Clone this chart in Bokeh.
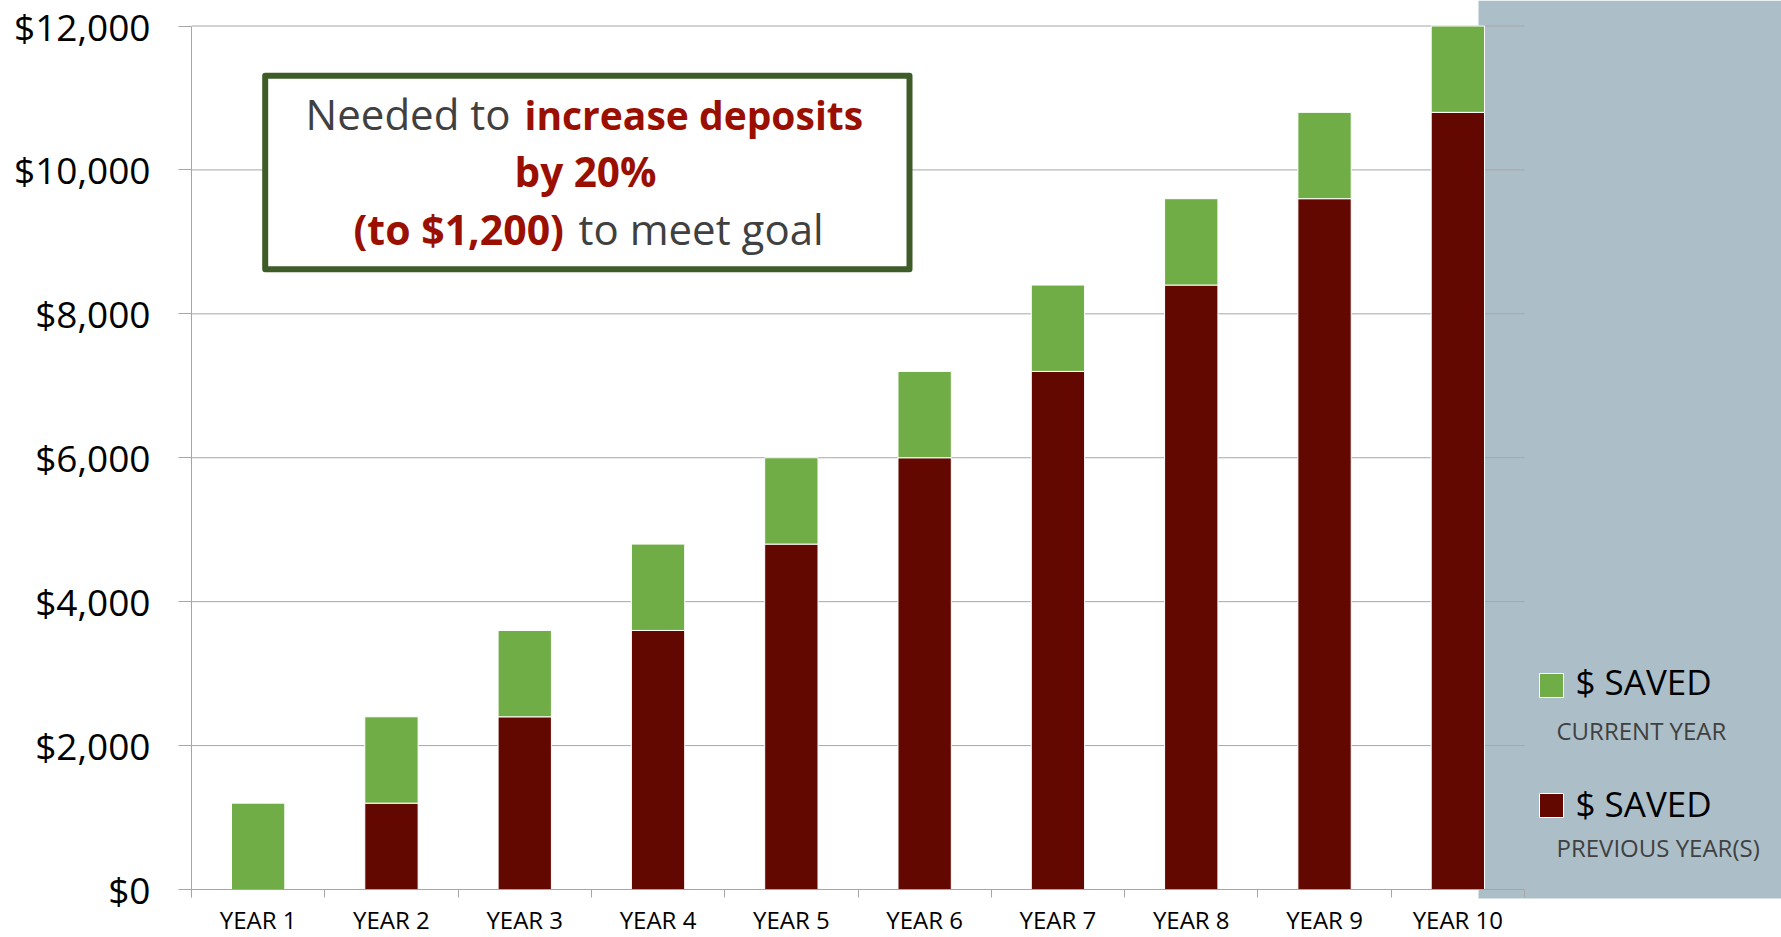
from bokeh.plotting import figure
from bokeh.models import Range1d, FixedTicker, NumeralTickFormatter, ColumnDataSource
from bokeh.embed import file_html
from bokeh.resources import INLINE
from bokeh.core.properties import value

# ---------------- data ----------------
years = ["YEAR 1", "YEAR 2", "YEAR 3", "YEAR 4", "YEAR 5",
         "YEAR 6", "YEAR 7", "YEAR 8", "YEAR 9", "YEAR 10"]
saved_previous = [0, 1200, 2400, 3600, 4800, 6000, 7200, 8400, 9600, 10800]
saved_current = [1200, 1200, 1200, 1200, 1200, 1200, 1200, 1200, 1200, 1200]
y_ticks = [0, 2000, 4000, 6000, 8000, 10000, 12000]
legend_titles = ["$ SAVED", "$ SAVED"]
legend_subtitles = ["CURRENT YEAR", "PREVIOUS YEAR(S)"]

# ---------------- style ----------------
GREEN = "#70AD47"
DARKRED = "#620800"
PANEL = "#ACBFC9"
GRID = "#A6A6A6"
BOX = "#3D5C28"
GRAY_TXT = "#404040"
RED_TXT = "#9A0F00"
FONT = "Open Sans"

# ---------------- layout (page pixels) ----------------
FIG_W, FIG_H = 1781, 937
OFF = 0
AX_LEFT = 191.0        # page x of the value axis
CAT_W = 133.3          # width of one category
Y0_PAGE = 889.0        # page y of $0
YTOP_PAGE = 25.5       # page y of top tick
TICK_BOTTOM = 897.0    # bottom end of the category boundary ticks
FRAME_TOP = OFF
FRAME_BOTTOM = OFF + FIG_H
FRAME_RIGHT = OFF + FIG_W
BASE_K = 0.40          # baseline correction (fraction of font size)

ppu = (Y0_PAGE - YTOP_PAGE) / y_ticks[-1]


def X(px):
    return (px - AX_LEFT) / CAT_W


def Y(py):
    return (Y0_PAGE - py) / ppu


def B(py, size):
    """data y for a text whose alphabetic baseline should sit at page y `py`"""
    return Y(py - BASE_K * size)


x_end = X(FRAME_RIGHT)
y_end = Y(FRAME_TOP)
y_start = Y(FRAME_BOTTOM)

centers = [i + 0.5 for i in range(len(years))]
source = ColumnDataSource(dict(x=centers, years=years,
                               previous=saved_previous, current=saved_current))

p = figure(width=FIG_W, height=FIG_H,
           x_range=Range1d(0, x_end), y_range=Range1d(y_start, y_end),
           output_backend="svg", toolbar_location=None,
           min_border_left=int(AX_LEFT - OFF), min_border_right=0,
           min_border_top=0, min_border_bottom=0,
           outline_line_color=None, background_fill_color="white",
           border_fill_color="white")
p.xgrid.visible = False
p.ygrid.visible = False

# grey side panel
p.quad(left=[X(1478)], right=[x_end], bottom=[Y(898)], top=[y_end],
       fill_color=PANEL, line_color=None)

# horizontal gridlines, ending at the last category
p.segment(x0=[0] * (len(y_ticks) - 1), x1=[len(years)] * (len(y_ticks) - 1),
          y0=y_ticks[1:], y1=y_ticks[1:], line_color=GRID, line_width=1)

# stacked bars
p.vbar_stack(["previous", "current"], x="x", width=0.4, source=source,
             fill_color=[DARKRED, GREEN], line_color="white", line_width=1)

# annotation box
p.quad(left=[X(264.7)], right=[X(909)], top=[Y(75.3)], bottom=[Y(268.7)],
       fill_color="white", line_color=BOX, line_width=6, line_join="round")

REG = 42


def txt(px, py, s, size, color, align, bold=False):
    p.text(x=[X(px)], y=[B(py, size)], text=[s], text_align=align,
           text_baseline="alphabetic", text_font=value(FONT),
           text_font_size=f"{size}px", text_color=color,
           text_font_style="bold" if bold else "normal")


txt(510, 130, "Needed to", REG, GRAY_TXT, "right")
txt(524, 130, "increase deposits", 39, RED_TXT, "left", True)
txt(585, 186.7, "by 20%", 40.5, RED_TXT, "center", True)
txt(563.5, 245, "(to $1,200)", 41, RED_TXT, "right", True)
txt(578, 245, "to meet goal", REG, GRAY_TXT, "left")

# legend (drawn in the grey panel)
LEG, SUB = 35, 24
p.scatter(x=[X(1551), X(1551)], y=[Y(685), Y(805)], marker="square", size=24,
          fill_color=[GREEN, DARKRED], line_color="white", line_width=1)
p.text(x=[X(1575), X(1575)], y=[B(695, LEG), B(817, LEG)], text=legend_titles,
       text_align="left", text_baseline="alphabetic", text_font=value(FONT),
       text_font_size=f"{LEG}px", text_color="black")
p.text(x=[X(1556), X(1556)], y=[B(740, SUB), B(857, SUB)], text=legend_subtitles,
       text_align="left", text_baseline="alphabetic", text_font=value(FONT),
       text_font_size=f"{SUB}px", text_color=GRAY_TXT)

# value axis
p.yaxis.ticker = FixedTicker(ticks=y_ticks)
p.yaxis.formatter = NumeralTickFormatter(format="$0,0")
p.yaxis.bounds = (Y(TICK_BOTTOM), y_ticks[-1])
p.yaxis.axis_line_color = GRID
p.yaxis.major_tick_line_color = GRID
p.yaxis.major_tick_out = 13
p.yaxis.major_tick_in = 0
p.yaxis.minor_tick_line_color = None
p.yaxis.major_label_standoff = 28
p.yaxis.major_label_text_font = FONT
p.yaxis.major_label_text_font_size = "37px"
p.yaxis.major_label_text_color = "black"

# category axis, pinned at $0
p.xaxis.fixed_location = 0
p.xaxis.bounds = (0, len(years))
p.xaxis.ticker = FixedTicker(ticks=centers, minor_ticks=list(range(len(years) + 1)))
p.xaxis.major_label_overrides = {c: yr for c, yr in zip(centers, years)}
p.xaxis.axis_line_color = GRID
p.xaxis.major_tick_line_color = None
p.xaxis.major_tick_out = 0
p.xaxis.major_tick_in = 0
p.xaxis.minor_tick_line_color = GRID
p.xaxis.minor_tick_in = 0
p.xaxis.minor_tick_out = 8
p.xaxis.major_label_standoff = 5
p.xaxis.major_label_text_font = FONT
p.xaxis.major_label_text_font_size = "24px"
p.xaxis.major_label_text_color = "black"

open("out.html", "w").write(file_html(p, INLINE))
